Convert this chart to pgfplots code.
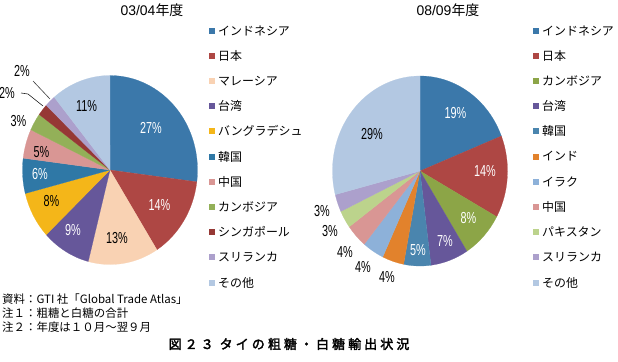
\documentclass[border=0pt]{standalone}
\usepackage{pgfplots}
\pgfplotsset{compat=1.18}
\usepackage{fontspec}
\setmainfont{Noto Sans CJK JP}
\newfontfamily\narrow[FakeStretch=0.68]{Liberation Sans}
\newfontfamily\tnum{Liberation Sans}
\newfontfamily\capfont[LetterSpace=24,FakeBold=2.5]{Noto Sans CJK JP}

\definecolor{cIndo}{HTML}{3B78AA}
\definecolor{cJpn}{HTML}{AE4744}
\definecolor{cMal}{HTML}{F9D2B3}
\definecolor{cTwn}{HTML}{66579A}
\definecolor{cBgd}{HTML}{F4B619}
\definecolor{cKorA}{HTML}{2F78A6}
\definecolor{cChn}{HTML}{D99694}
\definecolor{cKhmA}{HTML}{93B058}
\definecolor{cSgp}{HTML}{963835}
\definecolor{cLka}{HTML}{ACA0CC}
\definecolor{cOth}{HTML}{B3C8E2}
\definecolor{cKhmB}{HTML}{8CA547}
\definecolor{cKorB}{HTML}{4A85AE}
\definecolor{cInd}{HTML}{E2822C}
\definecolor{cIrq}{HTML}{8DB1D9}
\definecolor{cPak}{HTML}{BCD38C}

\def\Rx{87.5bp}
\def\Ry{94.5bp}
% #1 colour, #2 #3 start point (cos, sin), #4 start angle, #5 share in %
\newcommand\slice[5]{%
  \addplot[fill=#1, draw=#1, line width=0.2pt] coordinates {(0,0) (#2,#3)}
    arc[start angle=#4, delta angle={-3.6*#5}, x radius=\Rx, y radius=\Ry] -- cycle;}

\newcommand\pct[4][black]{\node[text=#1, font=\narrow\fontsize{16}{16}\selectfont, inner sep=0pt] at (#2bp,-#3bp) {#4};}
\newcommand\leg[4]{%
  \fill[#2] (#1bp-3bp,-#3bp+3bp) rectangle ++(6bp,-6bp);
  \node[anchor=west, inner sep=0pt, font=\fontsize{12}{12}\selectfont] at (#1bp+6.5bp,-#3bp) {#4};}

\begin{document}
\begin{tikzpicture}
\useasboundingbox (0,0) rectangle (618bp,-362bp);
\fill[white] (0,0) rectangle (618bp,-362bp);

% ---------- 03/04 ----------
\begin{axis}[at={(110bp,-170bp)}, anchor=origin, x=\Rx, y=\Ry,
  xmin=-1, xmax=1, ymin=-1, ymax=1, hide axis, clip=false]
\slice{cIndo}{0}{1}{90}{27}
\slice{cJpn}{0.99211}{-0.12533}{-7.2}{14}
\slice{cMal}{0.53583}{-0.84433}{-57.6}{13}
\slice{cTwn}{-0.24869}{-0.96858}{-104.4}{9}
\slice{cBgd}{-0.72897}{-0.68455}{-136.8}{8}
\slice{cKorA}{-0.96858}{-0.24869}{-165.6}{6}
\slice{cChn}{-0.99211}{0.12533}{-187.2}{5}
\slice{cKhmA}{-0.90483}{0.42578}{-205.2}{3}
\slice{cSgp}{-0.80902}{0.58779}{-216}{2}
\slice{cLka}{-0.72897}{0.68455}{-223.2}{2}
\slice{cOth}{-0.63742}{0.77051}{-230.4}{11}
\end{axis}

% ---------- 08/09 ----------
\def\Ry{95bp}
\begin{axis}[at={(420bp,-171bp)}, anchor=origin, x=\Rx, y=\Ry,
  xmin=-1, xmax=1, ymin=-1, ymax=1, hide axis, clip=false]
\slice{cIndo}{0}{1}{90}{19}
\slice{cJpn}{0.92978}{0.36812}{21.6}{14}
\slice{cKhmB}{0.87631}{-0.48175}{-28.8}{8}
\slice{cTwn}{0.53583}{-0.84433}{-57.6}{7}
\slice{cKorB}{0.12533}{-0.99211}{-82.8}{5}
\slice{cInd}{-0.18738}{-0.98229}{-100.8}{4}
\slice{cIrq}{-0.42578}{-0.90483}{-115.2}{4}
\slice{cChn}{-0.63742}{-0.77051}{-129.6}{4}
\slice{cPak}{-0.80902}{-0.58779}{-144}{3}
\slice{cLka}{-0.90483}{-0.42578}{-154.8}{3}
\slice{cOth}{-0.96858}{-0.24869}{-165.6}{29}
\end{axis}

% titles
\node[inner sep=0pt] at (152bp,-10.5bp) {{\tnum\fontsize{14}{14}\selectfont 03/04}{\fontsize{14}{14}\selectfont 年度}};
\node[inner sep=0pt] at (448bp,-10.5bp) {{\tnum\fontsize{14}{14}\selectfont 08/09}{\fontsize{14}{14}\selectfont 年度}};

% labels 03/04
\pct[white]{151}{127.5}{27\%}
\pct[white]{159.5}{205}{14\%}
\pct{117}{238.5}{13\%}
\pct[white]{73}{230.5}{9\%}
\pct{51.5}{201}{8\%}
\pct[white]{40}{174}{6\%}
\pct{41.5}{152.5}{5\%}
\pct{18.5}{121}{3\%}
\pct{7}{93}{2\%}
\pct{22}{71}{2\%}
\pct{86.5}{106.5}{11\%}
\draw[black!75, line width=0.6pt] (33bp,-81bp) -- (50bp,-99bp);
\draw[black!85, line width=0.6pt] (21bp,-93bp) -- (28bp,-94bp) -- (43bp,-106bp);

% labels 08/09
\pct[white]{455.5}{113}{19\%}
\pct[white]{485}{171}{14\%}
\pct[white]{468.5}{218}{8\%}
\pct[white]{445}{241}{7\%}
\pct[white]{418}{250}{5\%}
\pct{372}{134}{29\%}
\pct{322}{211}{3\%}
\pct{330}{231}{3\%}
\pct{345}{252}{4\%}
\pct{363}{267}{4\%}
\pct{387}{277}{4\%}

% legend 03/04
\leg{211.5}{cIndo}{30.5}{インドネシア}
\leg{211.5}{cJpn}{55.7}{日本}
\leg{211.5}{cMal}{80.9}{マレーシア}
\leg{211.5}{cTwn}{106.1}{台湾}
\leg{211.5}{cBgd}{131.3}{バングラデシュ}
\leg{211.5}{cKorA}{156.5}{韓国}
\leg{211.5}{cChn}{181.7}{中国}
\leg{211.5}{cKhmA}{206.9}{カンボジア}
\leg{211.5}{cSgp}{232.1}{シンガポール}
\leg{211.5}{cLka}{257.3}{スリランカ}
\leg{211.5}{cOth}{282.5}{その他}

% legend 08/09
\leg{535.5}{cIndo}{30.5}{インドネシア}
\leg{535.5}{cJpn}{55.7}{日本}
\leg{535.5}{cKhmB}{80.9}{カンボジア}
\leg{535.5}{cTwn}{106.1}{台湾}
\leg{535.5}{cKorB}{131.3}{韓国}
\leg{535.5}{cInd}{156.5}{インド}
\leg{535.5}{cIrq}{181.7}{イラク}
\leg{535.5}{cChn}{206.9}{中国}
\leg{535.5}{cPak}{232.1}{パキスタン}
\leg{535.5}{cLka}{257.3}{スリランカ}
\leg{535.5}{cOth}{282.5}{その他}

% notes
\node[anchor=west, inner sep=0pt, font=\fontsize{11.5}{11.5}\selectfont] at (2bp,-299bp) {資料：GTI 社「Global Trade Atlas」};
\node[anchor=west, inner sep=0pt, font=\fontsize{11.5}{11.5}\selectfont] at (2bp,-313bp) {注１：粗糖と白糖の合計};
\node[anchor=west, inner sep=0pt, font=\fontsize{11.5}{11.5}\selectfont] at (2bp,-327.5bp) {注２：年度は１０月～翌９月};
\node[inner sep=0pt, font=\capfont\fontsize{13}{13}\selectfont] at (289bp,-344bp) {図２３ タイの粗糖・白糖輸出状況};
\end{tikzpicture}
\end{document}
